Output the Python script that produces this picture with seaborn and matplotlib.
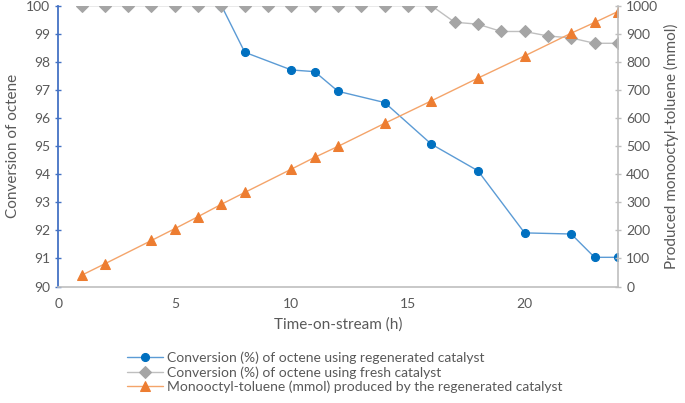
import pandas as pd
import seaborn as sns
import matplotlib.pyplot as plt

# data
hours_regen = [7, 8, 10, 11, 12, 14, 16, 18, 20, 22, 23, 24]
conv_regen = [100, 98.34, 97.71, 97.65, 96.95, 96.55,
              95.07, 94.12, 91.91, 91.87, 91.04, 91.04]
hours_fresh = list(range(1, 25))
conv_fresh = [100] * 16 + [99.41, 99.34, 99.08, 99.08, 98.92, 98.85, 98.66, 98.66]
hours_mot = [1, 2, 4, 5, 6, 7, 8, 10, 11, 12, 14, 16, 18, 20, 22, 23, 24]
mot_regen = [40, 81, 164, 206, 249, 293, 335, 418, 460, 499, 581, 661, 742,
             821, 902, 940, 979]

lab_regen = "Conversion (%) of octene using regenerated catalyst"
lab_fresh = "Conversion (%) of octene using fresh catalyst"
lab_mot = "Monooctyl-toluene (mmol) produced by the regenerated catalyst"

df_regen = pd.DataFrame({"h": hours_regen, "conv": conv_regen})
df_fresh = pd.DataFrame({"h": hours_fresh, "conv": conv_fresh})
df_mot = pd.DataFrame({"h": hours_mot, "mot": mot_regen})

sns.set_style("white")
plt.rcParams["font.family"] = ["Lato", "DejaVu Sans"]
txt = "#595959"
grey = "#BFBFBF"

fig = plt.figure(figsize=(6.85, 4.03), dpi=100)
ax = fig.add_axes([0.085, 0.289, 0.817, 0.697])
ax2 = ax.twinx()

sns.lineplot(data=df_regen, x="h", y="conv", ax=ax, color="#5B9BD5", lw=1,
             marker="o", ms=5.8, mfc="#0070C0", mec="#0070C0", label=lab_regen,
             legend=False)
sns.lineplot(data=df_fresh, x="h", y="conv", ax=ax, color="#BFBFBF", lw=1,
             marker="D", ms=6.2, mfc="#A5A5A5", mec="#A5A5A5", label=lab_fresh,
             legend=False)
sns.lineplot(data=df_mot, x="h", y="mot", ax=ax2, color="#F4A46A", lw=1,
             marker="^", ms=7.5, mfc="#ED7D31", mec="#ED7D31", label=lab_mot,
             legend=False)

ax.set_xlim(0, 24)
ax.set_ylim(90, 100)
ax2.set_ylim(0, 1000)
ax.set_xticks([0, 5, 10, 15, 20])
ax.set_yticks(range(90, 101))
ax2.set_yticks(range(0, 1001, 100))

ax.set_xlabel("Time-on-stream (h)", fontsize=11, color=txt, labelpad=5)
ax.set_ylabel("Conversion of octene", fontsize=11, color=txt, labelpad=4)
ax2.set_ylabel("Produced monooctyl-toluene (mmol)", fontsize=11, color=txt, labelpad=4)

for a in (ax, ax2):
    a.spines["top"].set_visible(False)
    a.tick_params(labelsize=10, colors=txt, length=5, width=1, direction="inout")
ax.spines["left"].set_color("#4472C4")
ax.spines["left"].set_linewidth(1.3)
ax.tick_params(axis="y", color="#4472C4")
ax.spines["bottom"].set_color(grey)
ax.spines["bottom"].set_linewidth(1.2)
ax.tick_params(axis="x", color=grey, direction="out")
ax.spines["right"].set_visible(False)
ax2.spines["left"].set_visible(False)
ax2.spines["bottom"].set_visible(False)
ax2.spines["right"].set_color(grey)
ax2.spines["right"].set_linewidth(1.2)
ax2.tick_params(axis="y", color=grey)

h1, l1 = ax.get_legend_handles_labels()
h2, l2 = ax2.get_legend_handles_labels()
fig.legend(h1 + h2, l1 + l2, loc="upper left", bbox_to_anchor=(0.175, 0.145),
           frameon=False, fontsize=10, labelcolor=txt, handlelength=2.6,
           handletextpad=0.3, labelspacing=0.15, borderpad=0)

fig.savefig("out.png", dpi=100)
